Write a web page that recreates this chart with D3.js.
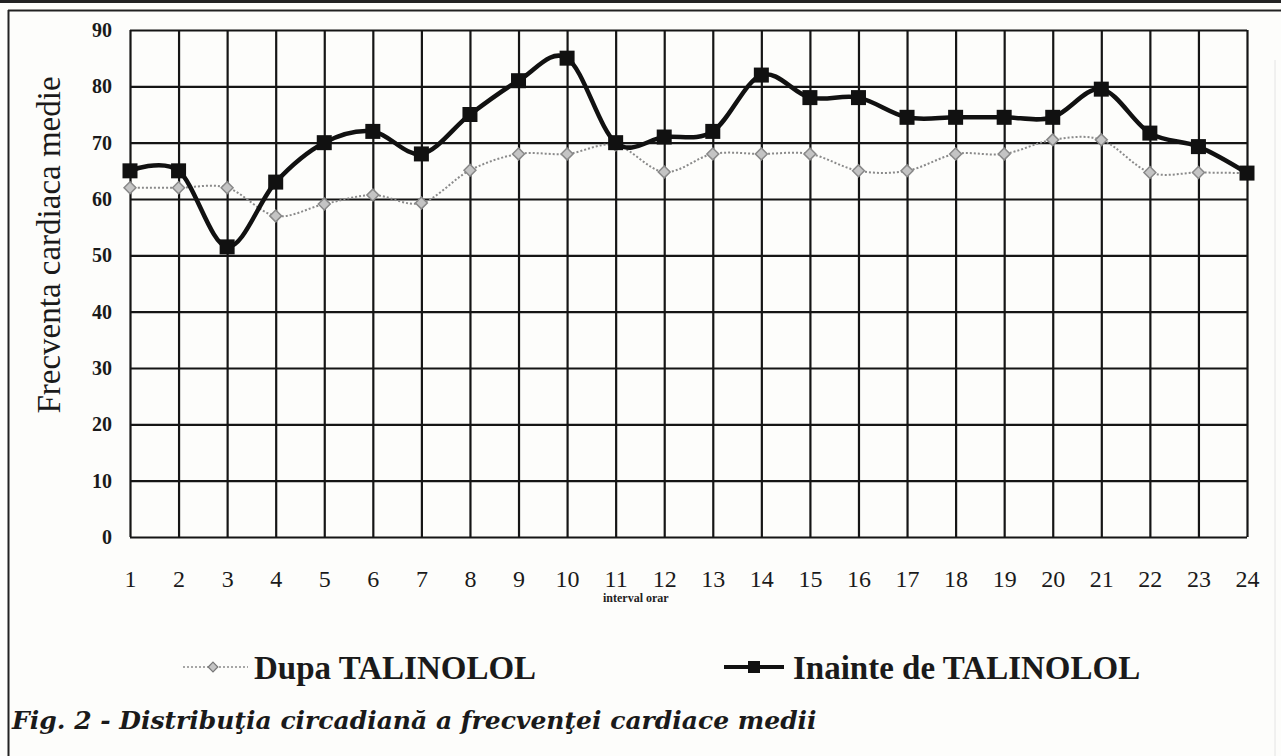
<!DOCTYPE html>
<html>
<head>
<meta charset="utf-8">
<script src="https://cdn.jsdelivr.net/npm/d3@7"></script>
<style>
  body { margin: 0; background: #fdfdfb; }
  svg { display: block; }
</style>
</head>
<body>
<div id="chart"></div>
<script>
// hourly intervals 1..24
const hours = d3.range(1, 25);
const yTicks = [0, 10, 20, 30, 40, 50, 60, 70, 80, 90];

// mean heart rate before talinolol
const inainte = [65, 65, 51.5, 63, 70, 72, 68, 75, 81, 85, 70, 71, 72, 82, 78, 78,
                 74.5, 74.5, 74.5, 74.5, 79.5, 71.7, 69.3, 64.6];
// mean heart rate after talinolol
const dupa = [62, 62, 62, 57, 59.1, 60.7, 59.3, 65.1, 68, 68, 69.6, 64.8, 68, 68, 68, 65,
              65, 68, 68, 70.5, 70.5, 64.7, 64.7, 64.6];

const W = 1281, H = 756;
const margin = { top: 30, right: 34, bottom: 219, left: 130 };

const svg = d3.select("#chart").append("svg")
  .attr("width", W).attr("height", H);

// page frame
svg.append("line").attr("x1", 0).attr("x2", W).attr("y1", 1.5).attr("y2", 1.5)
  .attr("stroke", "#222").attr("stroke-width", 3);
svg.append("line").attr("x1", 8).attr("x2", W).attr("y1", 10.5).attr("y2", 10.5)
  .attr("stroke", "#222").attr("stroke-width", 2);
svg.append("line").attr("x1", 8.5).attr("x2", 8.5).attr("y1", 10).attr("y2", H)
  .attr("stroke", "#222").attr("stroke-width", 2);
svg.append("line").attr("x1", 1275).attr("x2", 1275).attr("y1", 60).attr("y2", H)
  .attr("stroke", "#e4e4e4").attr("stroke-width", 1);

const x = d3.scalePoint().domain(hours).range([margin.left, W - margin.right]);
const y = d3.scaleLinear().domain([0, 90]).range([H - margin.bottom, margin.top]);

// grid
const grid = svg.append("g").attr("class", "grid");
grid.append("g")
  .attr("transform", `translate(${margin.left},0)`)
  .call(d3.axisLeft(y).tickValues(yTicks).tickSize(-(x.range()[1] - x.range()[0])).tickFormat(""))
  .call(g => g.select(".domain").remove());
grid.append("g")
  .attr("transform", `translate(0,${y(0)})`)
  .call(d3.axisBottom(x).tickSize(-(y(0) - y(90))).tickFormat(""))
  .call(g => g.select(".domain").remove());
grid.selectAll("line").attr("stroke", "#151515").attr("stroke-width", 2.2);

// y tick labels
svg.append("g")
  .attr("transform", `translate(${margin.left},0)`)
  .call(d3.axisLeft(y).tickValues(yTicks).tickSize(0).tickPadding(18))
  .call(g => g.select(".domain").remove())
  .selectAll("text")
  .attr("font-family", "Liberation Serif, serif")
  .attr("font-weight", "bold")
  .attr("font-size", 20)
  .attr("fill", "#1a1a1a");

// x tick labels
svg.append("g")
  .attr("transform", `translate(0,${y(0)})`)
  .call(d3.axisBottom(x).tickSize(0).tickPadding(33))
  .call(g => g.select(".domain").remove())
  .selectAll("text")
  .attr("font-family", "Liberation Serif, serif")
  .attr("font-size", 24)
  .attr("fill", "#1a1a1a");

svg.append("text")
  .attr("x", 603).attr("y", 602)
  .attr("font-family", "Liberation Serif, serif")
  .attr("font-weight", "bold")
  .attr("font-size", 12)
  .attr("fill", "#222")
  .text("interval orar");

// y axis title
svg.append("text")
  .attr("transform", `translate(60,245) rotate(-90)`)
  .attr("text-anchor", "middle")
  .attr("font-family", "Liberation Serif, serif")
  .attr("font-size", 33)
  .attr("fill", "#1a1a1a")
  .text("Frecventa cardiaca medie");

const line = d3.line()
  .x((d, i) => x(hours[i]))
  .y(d => y(d))
  .curve(d3.curveCardinal.tension(0));

// after: grey dotted with diamonds
svg.append("path")
  .datum(dupa)
  .attr("d", line)
  .attr("fill", "none")
  .attr("stroke", "#8a8a8a")
  .attr("stroke-width", 2)
  .attr("stroke-dasharray", "2,2");

const diamond = d3.symbol().type(d3.symbolDiamond2).size(90);
svg.append("g").selectAll("path")
  .data(dupa)
  .join("path")
  .attr("transform", (d, i) => `translate(${x(hours[i])},${y(d)})`)
  .attr("d", diamond)
  .attr("fill", "#c4c4c4")
  .attr("stroke", "#888")
  .attr("stroke-width", 1.5);

// before: black solid with squares
svg.append("path")
  .datum(inainte)
  .attr("d", line)
  .attr("fill", "none")
  .attr("stroke", "#111")
  .attr("stroke-width", 4.5);

svg.append("g").selectAll("rect")
  .data(inainte)
  .join("rect")
  .attr("x", (d, i) => x(hours[i]) - 7.5)
  .attr("y", d => y(d) - 7.5)
  .attr("width", 15)
  .attr("height", 15)
  .attr("fill", "#111");

// legend
const legendY = 667;
const legFont = 33;
const leg1 = svg.append("g");
leg1.append("line")
  .attr("x1", 183).attr("x2", 248).attr("y1", legendY).attr("y2", legendY)
  .attr("stroke", "#8a8a8a").attr("stroke-width", 1.5).attr("stroke-dasharray", "2,2");
leg1.append("path")
  .attr("transform", `translate(213,${legendY})`)
  .attr("d", d3.symbol().type(d3.symbolDiamond2).size(60))
  .attr("fill", "#c4c4c4").attr("stroke", "#777").attr("stroke-width", 1.2);
leg1.append("text")
  .attr("x", 254).attr("y", 679)
  .attr("font-family", "Liberation Serif, serif")
  .attr("font-weight", "bold")
  .attr("font-size", legFont)
  .attr("fill", "#1a1a1a")
  .text("Dupa TALINOLOL");

const leg2 = svg.append("g");
leg2.append("line")
  .attr("x1", 724).attr("x2", 784).attr("y1", legendY).attr("y2", legendY)
  .attr("stroke", "#111").attr("stroke-width", 4);
leg2.append("rect")
  .attr("x", 748).attr("y", legendY - 6).attr("width", 12).attr("height", 12)
  .attr("fill", "#111");
leg2.append("text")
  .attr("x", 793).attr("y", 679)
  .attr("font-family", "Liberation Serif, serif")
  .attr("font-weight", "bold")
  .attr("font-size", legFont)
  .attr("fill", "#1a1a1a")
  .text("Inainte de TALINOLOL");

// caption
svg.append("text")
  .attr("x", 12).attr("y", 729)
  .attr("font-family", "DejaVu Serif, serif")
  .attr("font-style", "italic")
  .attr("font-weight", "bold")
  .attr("font-size", 25)
  .attr("fill", "#1a1a1a")
  .text("Fig. 2 - Distribuţia circadiană a frecvenţei cardiace medii");
</script>
</body>
</html>
